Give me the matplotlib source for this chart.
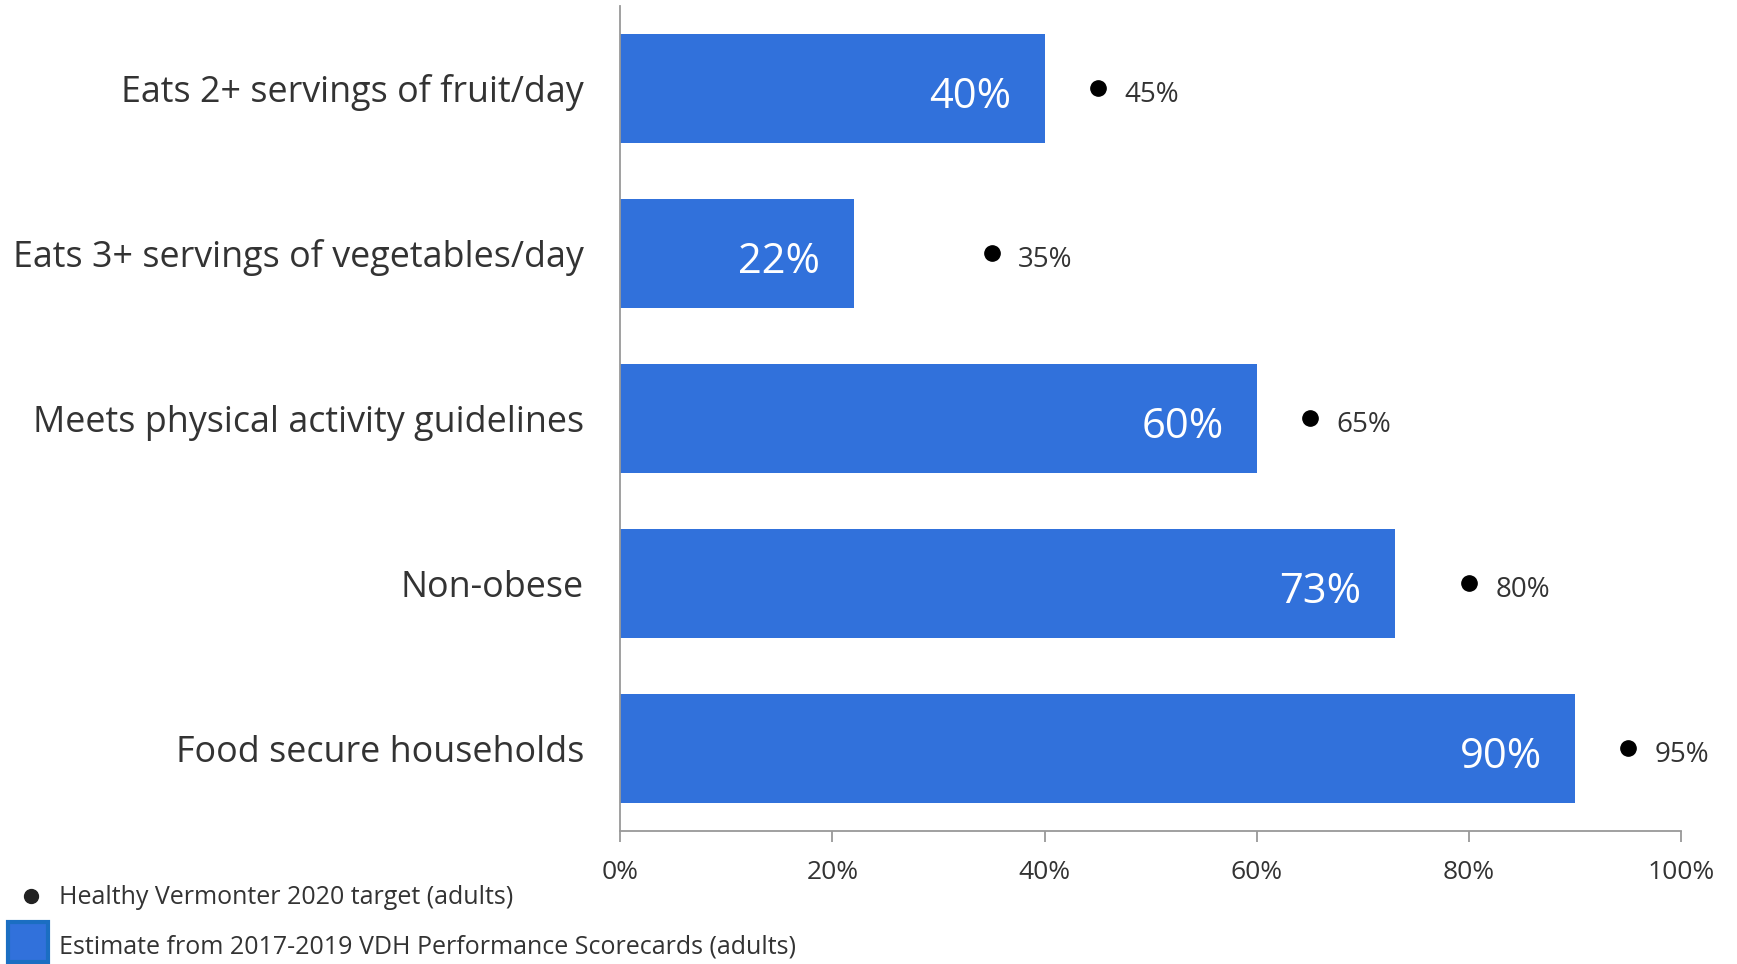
import matplotlib
matplotlib.use("Agg")
import matplotlib.pyplot as plt
from matplotlib.patches import Rectangle
from matplotlib.lines import Line2D
from matplotlib.ticker import FuncFormatter

categories = [
    "Eats 2+ servings of fruit/day",
    "Eats 3+ servings of vegetables/day",
    "Meets physical activity guidelines",
    "Non-obese",
    "Food secure households",
]
estimates = [40, 22, 60, 73, 90]
targets = [45, 35, 65, 80, 95]
xticks = [0, 20, 40, 60, 80, 100]
legend_target = "Healthy Vermonter 2020 target (adults)"
legend_estimate = "Estimate from 2017-2019 VDH Performance Scorecards (adults)"

BLUE = "#3171DB"
TEXT = "#333333"
GRAY = "#999999"
FONT = ["Open Sans", "DejaVu Sans"]
plt.rcParams["font.family"] = FONT

fig = plt.figure(figsize=(17.37, 9.64), dpi=100)
ax = fig.add_axes([0.357, 0.138, 0.611, 0.856])

y = list(range(len(categories)))
ax.barh(y, estimates, height=0.66, color=BLUE, zorder=2)
ax.plot(targets, y, "o", color="black", markersize=11, zorder=3)

for yi, v, t in zip(y, estimates, targets):
    ax.text(v - 7, yi + 0.05, f"{v}%", color="white", fontsize=30,
            ha="center", va="center", zorder=4)
    ax.annotate(f"{t}%", (t, yi), xytext=(19, -5), textcoords="offset points",
                fontsize=20, color=TEXT, ha="left", va="center")

ax.set_ylim(len(categories) - 0.5, -0.5)
ax.set_xlim(0, 100)
ax.set_yticks(y)
ax.set_yticklabels(categories, fontsize=25.8, color=TEXT)
ax.tick_params(axis="y", length=0, pad=26)
ax.set_xticks(xticks)
ax.xaxis.set_major_formatter(FuncFormatter(lambda v, p: f"{v:.0f}%"))
ax.tick_params(axis="x", length=8, width=1.3, color=GRAY, labelsize=19,
               labelcolor=TEXT, pad=13)
for s in ["top", "right"]:
    ax.spines[s].set_visible(False)
for s in ["left", "bottom"]:
    ax.spines[s].set_color(GRAY)
    ax.spines[s].set_linewidth(1.3)

# legend
fig.add_artist(Line2D([31 / 1737], [1 - 896 / 964], marker="o", color="#222222",
                      markersize=10, linestyle="none", transform=fig.transFigure))
fig.text(59 / 1737, 1 - 898 / 964, legend_target, fontsize=18, color=TEXT,
         ha="left", va="center")
fig.add_artist(Rectangle((8 / 1737, 1 - 962 / 964), 40 / 1737, 40 / 964,
                         facecolor=BLUE, edgecolor="#1b6ec2", linewidth=3,
                         transform=fig.transFigure))
fig.text(59 / 1737, 1 - 947 / 964, legend_estimate, fontsize=18, color=TEXT,
         ha="left", va="center")

fig.savefig("out.png", dpi=100)
